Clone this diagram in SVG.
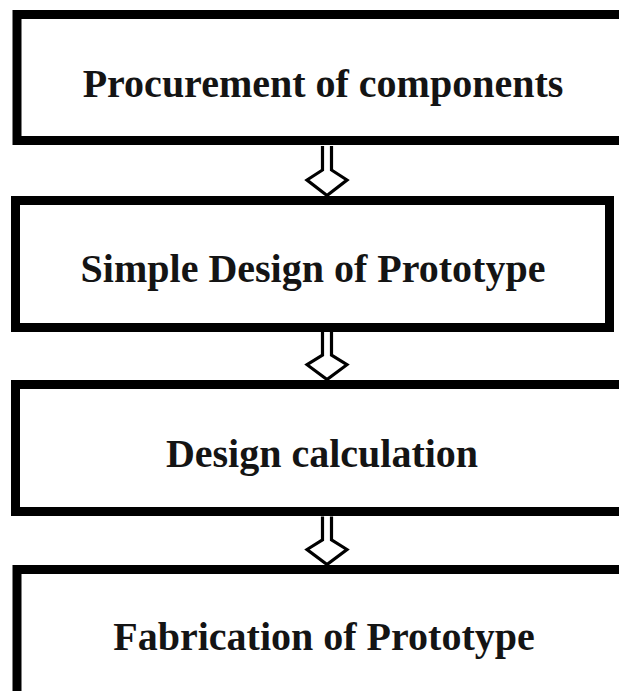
<svg xmlns="http://www.w3.org/2000/svg" width="619" height="691" viewBox="0 0 619 691">
  <style>
    .box { fill: #ffffff; stroke: #000000; stroke-width: 9; }
    .label { font-family: "Liberation Serif", "Times New Roman", serif; font-weight: bold; font-size: 40px; fill: #141414; text-anchor: middle; }
    .arrow { fill: #ffffff; stroke: #000000; stroke-width: 3.2; stroke-linejoin: miter; }
  </style>
  <defs>
    <!-- hollow down arrow, tip at origin -->
    <path id="downArrow" d="M-4.5,-51 V-27 L-20,-17 L0,-1.5 L20,-17 L4.5,-27 V-51"/>
  </defs>
  <rect x="0" y="0" width="619" height="691" fill="#ffffff"/>

  <g id="node-procurement">
    <rect class="box" x="17" y="14.5" width="640" height="126"/>
    <text class="label" x="323" y="97">Procurement of components</text>
  </g>

  <g id="node-simple-design">
    <rect class="box" x="15.5" y="200.5" width="594" height="127"/>
    <text class="label" x="313" y="282">Simple Design of Prototype</text>
  </g>

  <g id="node-design-calculation">
    <rect class="box" x="15.5" y="384.5" width="640" height="127"/>
    <text class="label" x="322" y="467">Design calculation</text>
  </g>

  <g id="node-fabrication">
    <rect class="box" x="17" y="569.5" width="640" height="200"/>
    <text class="label" x="324" y="650">Fabrication of Prototype</text>
  </g>

  <g id="connectors">
    <use href="#downArrow" class="arrow" transform="translate(327,197)"/>
    <use href="#downArrow" class="arrow" transform="translate(327,381) scale(1,0.96)"/>
    <use href="#downArrow" class="arrow" transform="translate(327,566) scale(1,0.97)"/>
  </g>
</svg>
